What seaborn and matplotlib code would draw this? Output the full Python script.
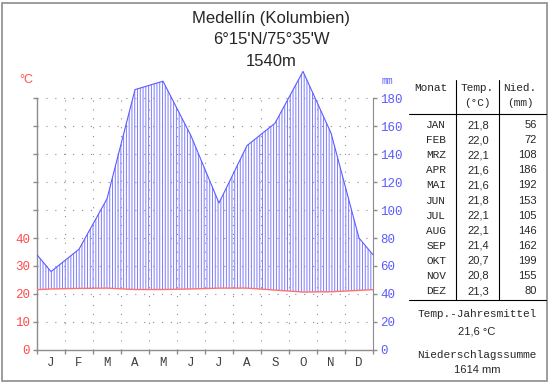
import numpy as np
import pandas as pd
import seaborn as sns
import matplotlib.pyplot as plt
from matplotlib.patches import Rectangle
from matplotlib.lines import Line2D

# ---- data ----
months = ['JAN', 'FEB', 'MRZ', 'APR', 'MAI', 'JUN', 'JUL', 'AUG', 'SEP', 'OKT', 'NOV', 'DEZ']
month_letters = ['J', 'F', 'M', 'A', 'M', 'J', 'J', 'A', 'S', 'O', 'N', 'D']
temp = [21.8, 22.0, 22.1, 21.6, 21.6, 21.8, 22.1, 22.1, 21.4, 20.7, 20.8, 21.3]
precip = [56, 72, 108, 186, 192, 153, 105, 146, 162, 199, 155, 80]
temp_ticks = [0, 10, 20, 30, 40]
precip_ticks = [0, 20, 40, 60, 80, 100, 120, 140, 160, 180]
title_lines = ['Medellín (Kolumbien)', "6°15'N/75°35'W", '1540m']
temp_mean = '21,6 °C'
precip_sum = '1614 mm'

RED = '#ff4c4c'
BLUE = '#5c5cff'
GRAY = '#8c8c8c'
MONO = 'Liberation Mono'
SANS = 'Liberation Sans'

sns.set_style('white')
plt.rcParams['hatch.linewidth'] = 0.7

W, H = 550, 384
fig = plt.figure(figsize=(W / 100, H / 100), dpi=100)


def fx(x):
    return x / W


def fy(y):
    return 1 - y / H


# plot area: 1.4 px per mm, 0 at y=350
ytop = 206
ax = fig.add_axes([fx(37), 34 / H, 336 / W, ytop * 1.4 / H])

# wrap Dec/Jan to the plot edges
xpos = np.arange(12) + 0.5
p = np.array(precip, dtype=float)
t2 = np.array(temp) * 2
xe = np.r_[0, xpos, 12]
pe = np.r_[(p[0] + p[-1]) / 2, p, (p[0] + p[-1]) / 2]
te = np.r_[(t2[0] + t2[-1]) / 2, t2, (t2[0] + t2[-1]) / 2]
df = pd.DataFrame({'x': xe, 'precip': pe, 'temp': te})

# grid
ax.hlines(precip_ticks[1:], 0, 12, color=GRAY, lw=0.8, linestyles=(0, (1, 7)), zorder=0)
ax.vlines(range(1, 12), 0, 180, color=GRAY, lw=0.8, linestyles=(0, (1, 7)), zorder=0)

ax.fill_between(df['x'], df['temp'], df['precip'], where=df['precip'] >= df['temp'],
                interpolate=True, facecolor='none', edgecolor='#7c7cff',
                hatch='||||||', linewidth=0, zorder=1)
sns.lineplot(data=df, x='x', y='precip', color=BLUE, lw=0.8, ax=ax, zorder=3)
sns.lineplot(data=df, x='x', y='temp', color='#ff7070', lw=1.0, ax=ax, zorder=4)

ax.set_xlim(0, 12)
ax.set_ylim(0, ytop)
ax.set_xlabel('')
ax.set_ylabel('')

ax.spines['top'].set_visible(False)
ax.spines['right'].set_visible(False)
for s in ['left', 'bottom']:
    ax.spines[s].set_color(GRAY)
    ax.spines[s].set_linewidth(1)
ax.spines['left'].set_bounds(0, 180)

ax.set_xticks(range(13))
ax.set_xticklabels([])
ax.set_xticks(xpos, minor=True)
ax.set_xticklabels(month_letters, minor=True, fontfamily=MONO, fontsize=9, color='#404040')
ax.tick_params(axis='x', which='major', direction='out', length=3, color=GRAY, width=1, bottom=True)
ax.tick_params(axis='x', which='minor', length=0, pad=5)

ax.set_yticks(precip_ticks)
ax.set_yticklabels([str(t) for t in temp_ticks] + [''] * (len(precip_ticks) - len(temp_ticks)),
                   fontfamily=MONO, fontsize=9, color=RED)
ax.tick_params(axis='y', direction='out', length=3, color=GRAY, width=1, left=True, pad=2)

ax2 = ax.twinx()
ax2.set_ylim(0, ytop)
for s in ['left', 'top', 'bottom']:
    ax2.spines[s].set_visible(False)
ax2.spines['right'].set_color(GRAY)
ax2.spines['right'].set_bounds(0, 180)
ax2.set_yticks(precip_ticks)
ax2.set_yticklabels([str(v) for v in precip_ticks], fontfamily=MONO, fontsize=9, color=BLUE)
ax2.tick_params(axis='y', direction='out', length=3, color=GRAY, width=1, right=True, pad=2)

fig.text(fx(26), fy(80), '°C', color=RED, fontsize=9, fontfamily=SANS, ha='center', va='center')
fig.text(fx(387), fy(81), 'mm', color=BLUE, fontsize=7, fontfamily=MONO, ha='center', va='center')

# title
for i, line in enumerate(title_lines):
    fig.text(fx(271), fy(18 + 22 * i), line, fontsize=12, fontfamily=SANS, ha='center', va='center')

# table
fig.text(fx(447), fy(88), 'Monat', fontfamily=MONO, fontsize=8, ha='right', va='center')
fig.text(fx(477), fy(88), 'Temp.', fontfamily=MONO, fontsize=8, ha='center', va='center')
fig.text(fx(477), fy(103), '(°C)', fontfamily=MONO, fontsize=8, ha='center', va='center')
fig.text(fx(520), fy(88), 'Nied.', fontfamily=MONO, fontsize=8, ha='center', va='center')
fig.text(fx(520), fy(103), '(mm)', fontfamily=MONO, fontsize=8, ha='center', va='center')

for i, m in enumerate(months):
    yy = fy(125 + 15.1 * i)
    fig.text(fx(446), yy, m, fontfamily=MONO, fontsize=8, ha='right', va='center')
    fig.text(fx(489), yy, f'{temp[i]:.1f}'.replace('.', ','), fontfamily=SANS, fontsize=8,
             ha='right', va='center')
    fig.text(fx(537), yy, str(precip[i]), fontfamily=SANS, fontsize=8, ha='right', va='center')

for x0, y0, x1, y1 in [(409, 114, 546, 114), (409, 300, 546, 300),
                       (456, 80, 456, 300), (499, 80, 499, 300)]:
    fig.add_artist(Line2D([fx(x0), fx(x1)], [fy(y0), fy(y1)], color='black', lw=0.8,
                          transform=fig.transFigure))

fig.text(fx(477), fy(314), 'Temp.-Jahresmittel', fontfamily=MONO, fontsize=8, ha='center', va='center')
fig.text(fx(477), fy(331), temp_mean, fontfamily=SANS, fontsize=8, ha='center', va='center')
fig.text(fx(477), fy(355), 'Niederschlagssumme', fontfamily=MONO, fontsize=8, ha='center', va='center')
fig.text(fx(477), fy(370), precip_sum, fontfamily=SANS, fontsize=8, ha='center', va='center')

# outer frame
fig.patches.append(Rectangle((fx(2), fy(381)), 545 / W, 378 / H, transform=fig.transFigure,
                             fill=False, edgecolor=GRAY, lw=1.2))

fig.savefig('out.png', dpi=100)
